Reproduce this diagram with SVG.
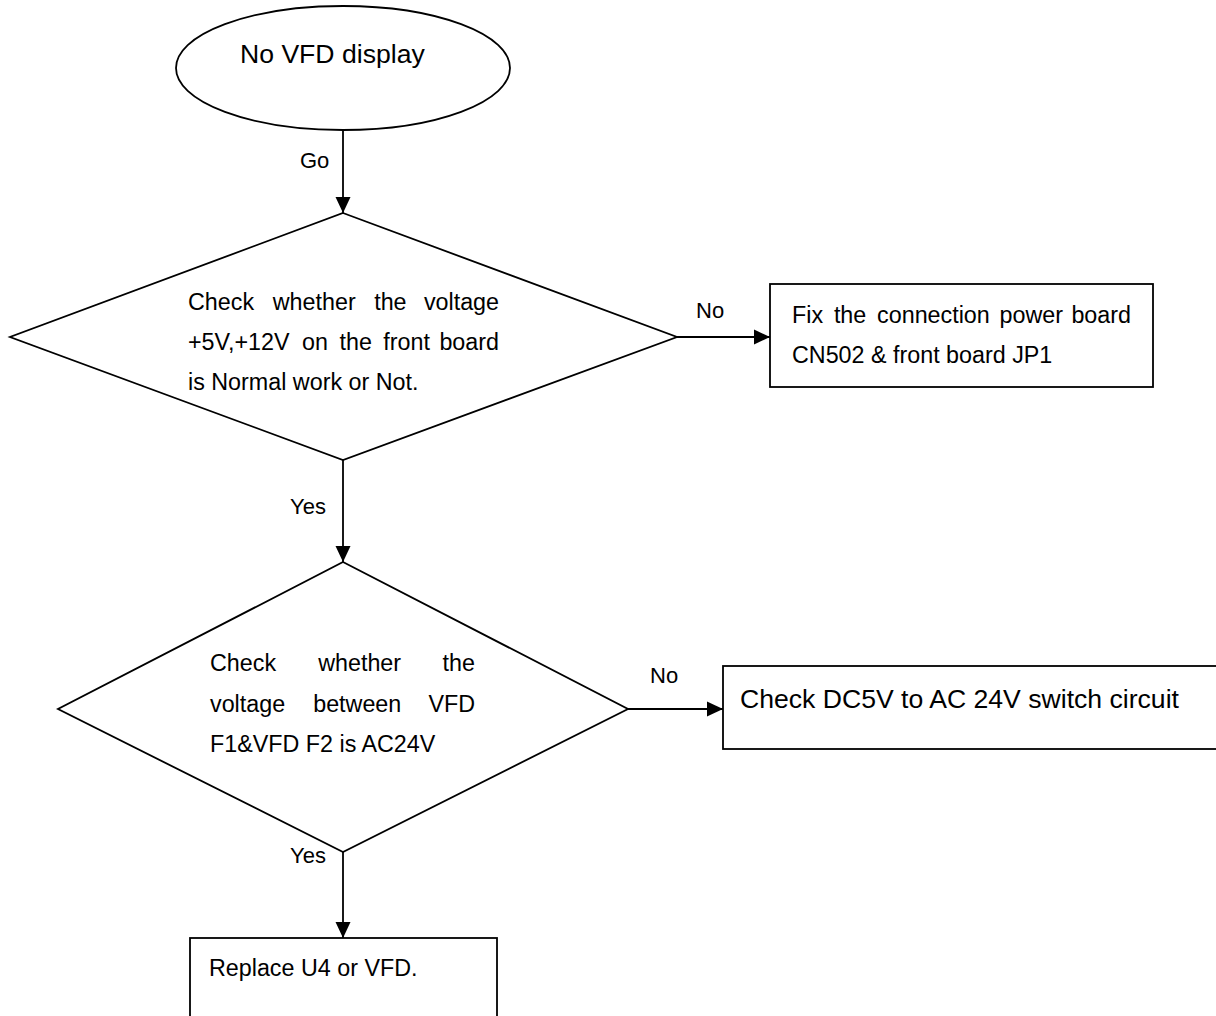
<svg xmlns="http://www.w3.org/2000/svg" width="1216" height="1016" viewBox="0 0 1216 1016">
<defs>
<marker id="arr" markerUnits="userSpaceOnUse" markerWidth="16" markerHeight="16" viewBox="0 0 16 16" refX="16" refY="8" orient="auto">
<path d="M0,0.5 L16,8 L0,15.5 z" fill="#000"/>
</marker>
<style>
.shape{fill:#fff;stroke:#000;stroke-width:1.8}
.conn{stroke:#000;stroke-width:1.8;fill:none;marker-end:url(#arr)}
text{font-family:"Liberation Sans",Arial,sans-serif;fill:#000}
.big{font-size:26.6px}
.body{font-size:23.3px}
.lbl{font-size:22px}
</style>
</defs>
<rect width="1216" height="1016" fill="#fff"/>
<g id="connectors">
<line class="conn" x1="343" y1="130" x2="343" y2="213"/>
<line class="conn" x1="343" y1="460" x2="343" y2="562"/>
<line class="conn" x1="677" y1="337" x2="770" y2="337"/>
<line class="conn" x1="628" y1="709" x2="723" y2="709"/>
<line class="conn" x1="343" y1="852" x2="343" y2="938"/>
<text class="lbl" x="300" y="168">Go</text>
<text class="lbl" x="290" y="514">Yes</text>
<text class="lbl" x="696" y="318">No</text>
<text class="lbl" x="650" y="683">No</text>
<text class="lbl" x="290" y="863">Yes</text>
</g>
<g id="start">
<ellipse class="shape" cx="343" cy="68" rx="167" ry="62"/>
<text class="big" x="240" y="63">No VFD display</text>
</g>
<g id="check1">
<polygon class="shape" points="343,213 677,337 343,460 10,337"/>
<text class="body" x="188" y="310">Check</text>
<text class="body" x="272.8" y="310">whether</text>
<text class="body" x="374.2" y="310">the</text>
<text class="body" x="499" y="310" text-anchor="end">voltage</text>
<text class="body" x="188" y="350">+5V,+12V</text>
<text class="body" x="302.1" y="350">on</text>
<text class="body" x="339.5" y="350">the</text>
<text class="body" x="383.3" y="350">front</text>
<text class="body" x="499" y="350" text-anchor="end">board</text>
<text class="body" x="188" y="390">is Normal work or Not.</text>
</g>
<g id="fix">
<rect class="shape" x="770" y="284" width="383" height="103"/>
<text class="body" x="792" y="323">Fix</text>
<text class="body" x="833.9" y="323">the</text>
<text class="body" x="877.1" y="323">connection</text>
<text class="body" x="999.5" y="323">power</text>
<text class="body" x="1131" y="323" text-anchor="end">board</text>
<text class="body" x="792" y="363">CN502 &amp; front board JP1</text>
</g>
<g id="check2">
<polygon class="shape" points="343,562 628,709 343,852 58,709"/>
<text class="body" x="210" y="671">Check</text>
<text class="body" x="318.2" y="671">whether</text>
<text class="body" x="475" y="671" text-anchor="end">the</text>
<text class="body" x="210" y="712">voltage</text>
<text class="body" x="313.2" y="712">between</text>
<text class="body" x="475" y="712" text-anchor="end">VFD</text>
<text class="body" x="210" y="752">F1&amp;VFD F2 is AC24V</text>
</g>
<g id="switch">
<rect class="shape" x="723" y="666" width="510" height="83"/>
<text class="big" x="740" y="708">Check DC5V to AC 24V switch circuit</text>
</g>
<g id="replace">
<rect class="shape" x="190" y="938" width="307" height="100"/>
<text class="body" x="209" y="976">Replace U4 or VFD.</text>
</g>
</svg>
